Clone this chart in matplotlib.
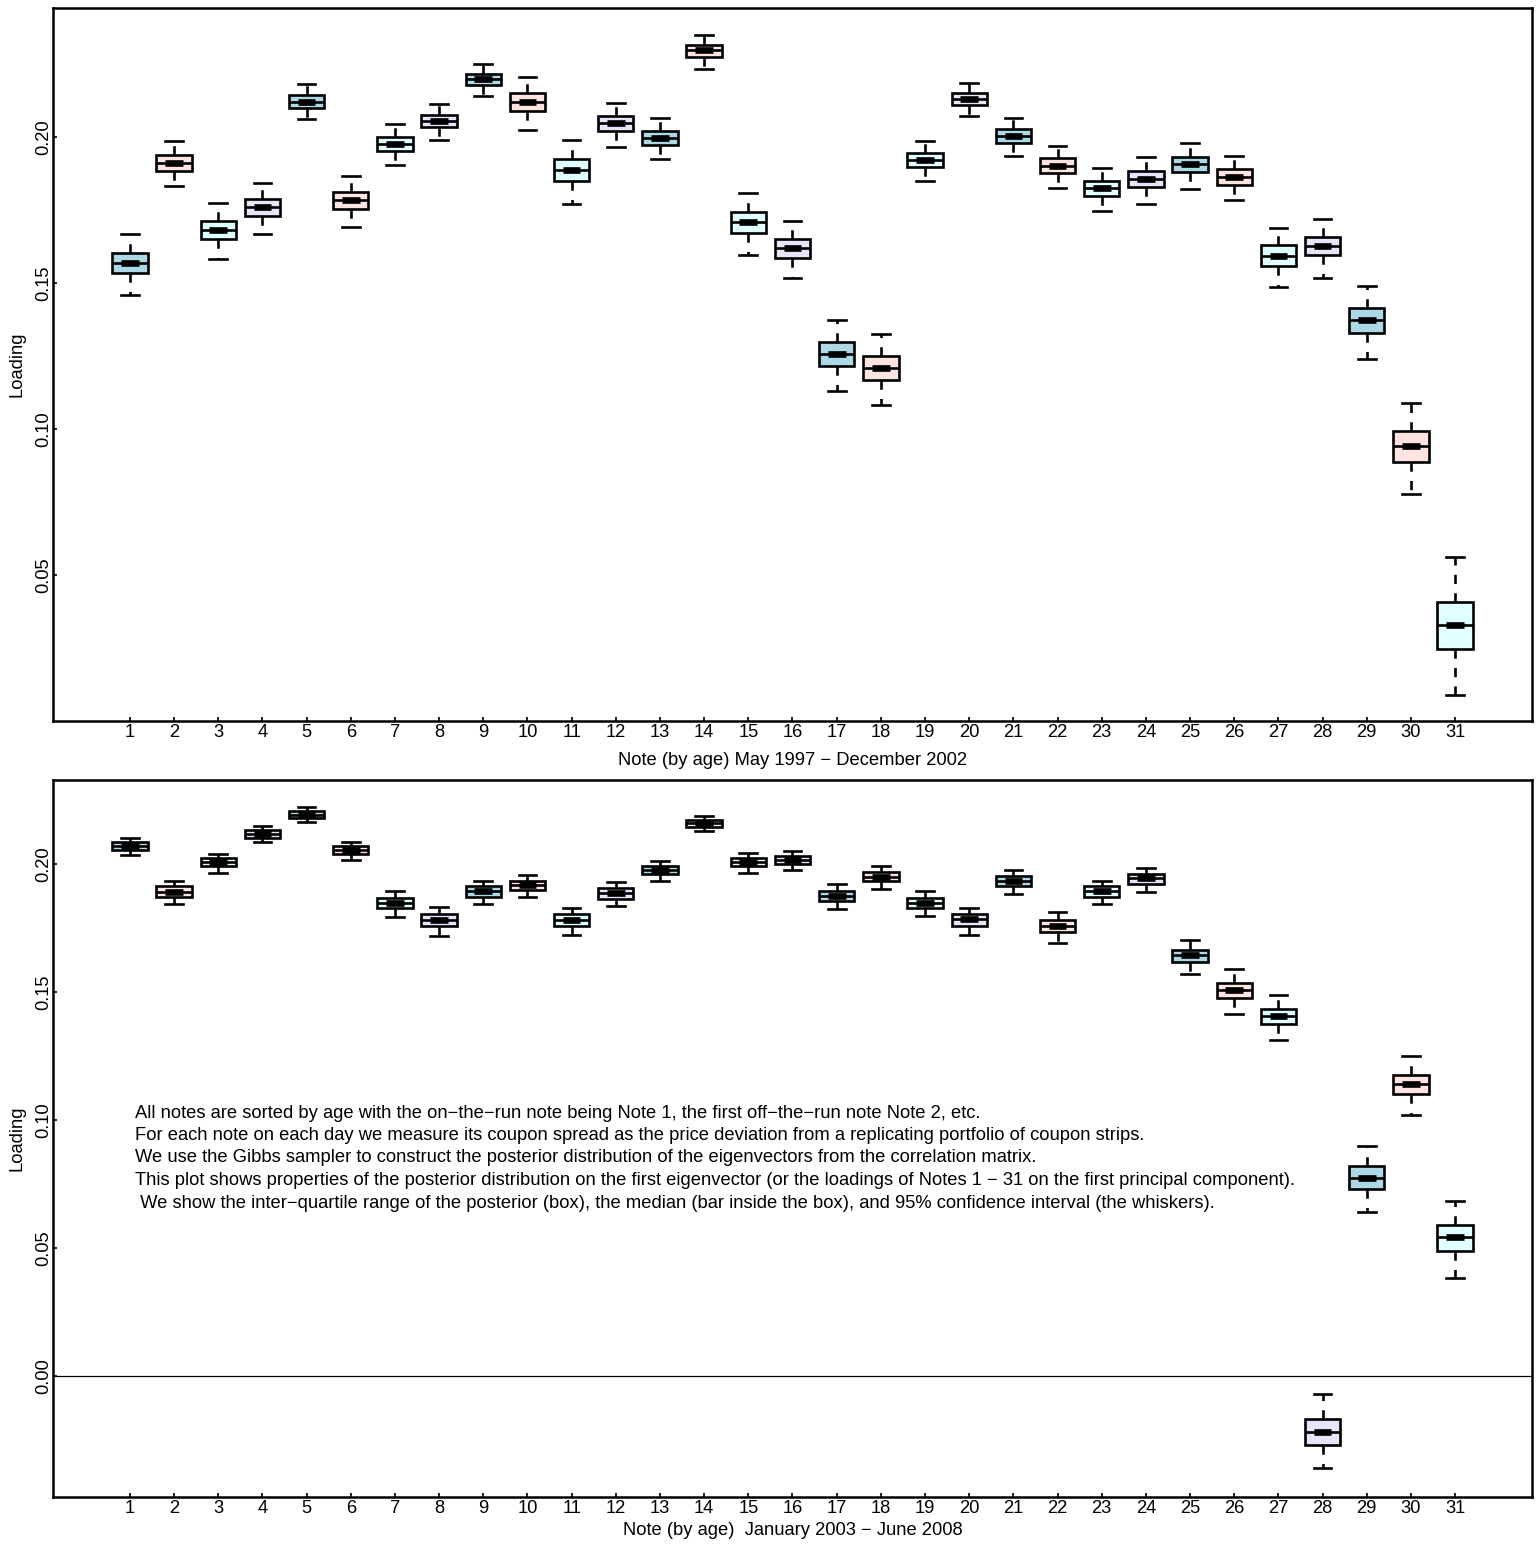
import numpy as np
import matplotlib
matplotlib.use('Agg')
import matplotlib.pyplot as plt

plt.rcParams['font.family'] = ['Liberation Sans', 'DejaVu Sans']

# =============================================================================
# Posterior loadings of Notes 1-31 on the first eigenvector
# =============================================================================
notes = list(range(1, 32))
box_colors = ['#ADD8E6', '#FFE4E1', '#E0FFFF', '#E6E6FA']  # lightblue, mistyrose, lightcyan, lavender

# May 1997 - December 2002
top_whishi = [0.1668, 0.1986, 0.1774, 0.1842, 0.2182, 0.1866, 0.2045, 0.2113, 0.2250, 0.2205,
              0.1990, 0.2116, 0.2065, 0.2349, 0.1808, 0.1712, 0.1373, 0.1325, 0.1986, 0.2185,
              0.2065, 0.1969, 0.1894, 0.1932, 0.1979, 0.1935, 0.1688, 0.1719, 0.1490, 0.1089, 0.0562]
top_q3 = [0.1603, 0.1938, 0.1712, 0.1788, 0.2144, 0.1812, 0.2000, 0.2075, 0.2216, 0.2151,
          0.1925, 0.2072, 0.2021, 0.2315, 0.1743, 0.1651, 0.1298, 0.1250, 0.1945, 0.2151,
          0.2027, 0.1928, 0.1849, 0.1884, 0.1932, 0.1890, 0.1630, 0.1658, 0.1414, 0.0993, 0.0408]
top_med = [0.1568, 0.1911, 0.1682, 0.1760, 0.2120, 0.1784, 0.1976, 0.2055, 0.2199, 0.2120,
           0.1887, 0.2048, 0.1997, 0.2298, 0.1709, 0.1620, 0.1257, 0.1209, 0.1921, 0.2130,
           0.2003, 0.1901, 0.1825, 0.1856, 0.1908, 0.1863, 0.1592, 0.1627, 0.1373, 0.0942, 0.0329]
top_q1 = [0.1534, 0.1884, 0.1651, 0.1729, 0.2099, 0.1753, 0.1952, 0.2034, 0.2178, 0.2089,
          0.1849, 0.2021, 0.1973, 0.2274, 0.1671, 0.1586, 0.1216, 0.1168, 0.1897, 0.2110,
          0.1979, 0.1877, 0.1798, 0.1829, 0.1880, 0.1836, 0.1558, 0.1596, 0.1329, 0.0887, 0.0247]
top_whislo = [0.1459, 0.1832, 0.1582, 0.1668, 0.2062, 0.1692, 0.1904, 0.1990, 0.2140, 0.2024,
              0.1771, 0.1966, 0.1925, 0.2233, 0.1596, 0.1517, 0.1130, 0.1082, 0.1849, 0.2072,
              0.1935, 0.1825, 0.1747, 0.1771, 0.1822, 0.1784, 0.1486, 0.1517, 0.1240, 0.0777, 0.0089]

# January 2003 - June 2008
bot_whishi = [0.2102, 0.1934, 0.2039, 0.2148, 0.2223, 0.2086, 0.1895, 0.1832, 0.1934, 0.1957,
              0.1828, 0.1930, 0.2012, 0.2188, 0.2043, 0.2051, 0.1922, 0.1992, 0.1895, 0.1828,
              0.1977, 0.1813, 0.1934, 0.1984, 0.1703, 0.1590, 0.1488, -0.0070, 0.0898, 0.1250, 0.0684]
bot_q3 = [0.2086, 0.1914, 0.2023, 0.2133, 0.2207, 0.2070, 0.1867, 0.1805, 0.1914, 0.1934,
          0.1805, 0.1906, 0.1992, 0.2172, 0.2023, 0.2031, 0.1895, 0.1969, 0.1867, 0.1805,
          0.1953, 0.1781, 0.1914, 0.1961, 0.1664, 0.1535, 0.1434, -0.0168, 0.0820, 0.1176, 0.0590]
bot_med = [0.2070, 0.1891, 0.2008, 0.2117, 0.2191, 0.2055, 0.1848, 0.1781, 0.1895, 0.1918,
           0.1781, 0.1887, 0.1977, 0.2160, 0.2008, 0.2016, 0.1875, 0.1949, 0.1848, 0.1785,
           0.1934, 0.1758, 0.1895, 0.1945, 0.1645, 0.1508, 0.1406, -0.0219, 0.0773, 0.1141, 0.0543]
bot_q1 = [0.2055, 0.1871, 0.1992, 0.2102, 0.2180, 0.2039, 0.1828, 0.1758, 0.1871, 0.1898,
          0.1758, 0.1863, 0.1961, 0.2145, 0.1992, 0.2000, 0.1855, 0.1934, 0.1828, 0.1758,
          0.1914, 0.1734, 0.1871, 0.1922, 0.1617, 0.1477, 0.1375, -0.0270, 0.0730, 0.1102, 0.0488]
bot_whislo = [0.2035, 0.1844, 0.1965, 0.2086, 0.2164, 0.2016, 0.1793, 0.1719, 0.1844, 0.1871,
              0.1723, 0.1836, 0.1934, 0.2129, 0.1965, 0.1977, 0.1824, 0.1902, 0.1797, 0.1723,
              0.1883, 0.1691, 0.1844, 0.1891, 0.1570, 0.1414, 0.1313, -0.0359, 0.0641, 0.1020, 0.0383]

note_lines = [
    "All notes are sorted by age with the on\u2212the\u2212run note being Note 1, the first off\u2212the\u2212run note Note 2, etc.",
    "For each note on each day we measure its coupon spread as the price deviation from a replicating portfolio of coupon strips.",
    "We use the Gibbs sampler to construct the posterior distribution of the eigenvectors from the correlation matrix.",
    "This plot shows properties of the posterior distribution on the first eigenvector (or the loadings of Notes 1 \u2212 31 on the first principal component).",
    " We show the inter\u2212quartile range of the posterior (box), the median (bar inside the box), and 95% confidence interval (the whiskers).",
]

FS = 13.2


def draw_boxes(ax, whislo, q1, med, q3, whishi):
    stats = []
    for i in range(len(notes)):
        stats.append(dict(med=med[i], q1=q1[i], q3=q3[i], whislo=whislo[i], whishi=whishi[i], fliers=[]))
    bp = ax.bxp(stats, positions=notes, widths=0.8, capwidths=0.4, patch_artist=True,
                showfliers=False,
                boxprops=dict(linewidth=1.9, edgecolor='black'),
                whiskerprops=dict(linewidth=1.9, linestyle=(0, (3.5, 3.5)), color='black'),
                capprops=dict(linewidth=1.9, color='black'),
                medianprops=dict(linewidth=1.9, color='black'))
    for k, patch in enumerate(bp['boxes']):
        patch.set_facecolor(box_colors[k % 4])
    # thick median bar
    ax.hlines(med, np.array(notes) - 0.2, np.array(notes) + 0.2, color='black', linewidth=4.8, zorder=4)


fig = plt.figure(figsize=(15.4, 15.45), dpi=100)
W, H = 1540., 1545.
ax1 = fig.add_axes([53 / W, 1 - 721 / H, 1479 / W, 713 / H])
ax2 = fig.add_axes([53 / W, 1 - 1497 / H, 1479 / W, 717 / H])

draw_boxes(ax1, top_whislo, top_q1, top_med, top_q3, top_whishi)
draw_boxes(ax2, bot_whislo, bot_q1, bot_med, bot_q3, bot_whishi)
ax2.axhline(0, color='black', linewidth=0.9, zorder=1)

ax1.set_ylim(-0.0001, 0.2442)
ax2.set_ylim(-0.0473, 0.2328)
ax1.set_yticks([0.05, 0.10, 0.15, 0.20])
ax1.set_yticklabels(['0.05', '0.10', '0.15', '0.20'])
ax2.set_yticks([0.00, 0.05, 0.10, 0.15, 0.20])
ax2.set_yticklabels(['0.00', '0.05', '0.10', '0.15', '0.20'])

for ax in (ax1, ax2):
    ax.set_xlim(-0.74, 32.74)
    ax.set_xticks(notes)
    ax.set_xticklabels([str(n) for n in notes])
    for s in ax.spines.values():
        s.set_linewidth(1.8)
    ax.tick_params(axis='both', direction='in', length=3, width=1.2, labelsize=FS)
    ax.tick_params(axis='x', pad=2.5)
    ax.tick_params(axis='y', pad=0.5)
    for lab in ax.get_yticklabels():
        lab.set_rotation(90)
        lab.set_va('center')
    ax.set_ylabel('Loading', fontsize=FS)
    ax.yaxis.label.set_va('center')
    ax.yaxis.set_label_coords(-0.0243, 0.5)

ax1.set_xlabel('Note (by age) May 1997 \u2212 December 2002', fontsize=FS)
ax1.xaxis.set_label_coords(0.5, -0.0547)
ax1.xaxis.label.set_va('center')
ax2.set_xlabel('Note (by age)  January 2003 \u2212 June 2008', fontsize=FS)
ax2.xaxis.set_label_coords(0.5, -0.0474)
ax2.xaxis.label.set_va('center')

for j, line in enumerate(note_lines):
    ax2.text(0.0554, (1497 - 1113 - 22.5 * j) / 717, line, transform=ax2.transAxes,
             ha='left', va='center', fontsize=FS)

plt.savefig('out.png', dpi=100)
